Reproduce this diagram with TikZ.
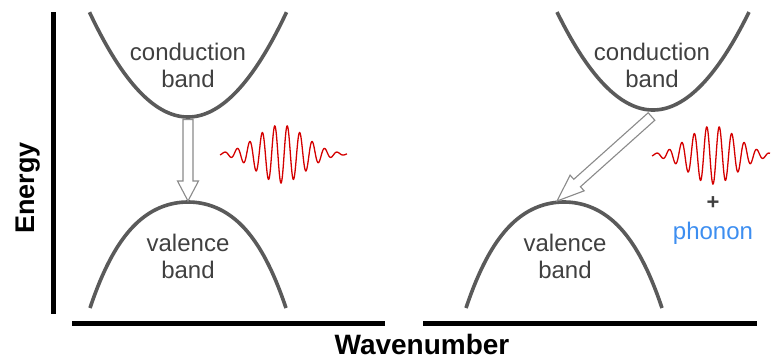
\documentclass[tikz,border=0pt]{standalone}
\usepackage{fontspec}
\setmainfont{Liberation Sans}
\usepackage{tikz}
\usetikzlibrary{calc}
\definecolor{bandgray}{HTML}{5A5A5A}
\definecolor{textgray}{HTML}{404040}
\definecolor{wavered}{HTML}{D40000}
\definecolor{phonblue}{HTML}{3D8EF0}
\definecolor{arrgray}{HTML}{8A8A8A}
% hollow block arrow: from, to, head length
\newcommand{\hollowarrow}[3]{%
  \filldraw[hollow] ($(#1)!5pt!90:(#2)$) -- ($(#2)!#3!(#1)!5pt!90:(#2)$)
    -- ($(#2)!#3!(#1)!10.5pt!90:(#2)$) -- (#2)
    -- ($(#2)!#3!(#1)!10.5pt!-90:(#2)$) -- ($(#2)!#3!(#1)!5pt!-90:(#2)$)
    -- ($(#1)!5pt!-90:(#2)$) -- cycle;}

\begin{document}
\begin{tikzpicture}[x=1pt, y=-1pt,
  band/.style={draw=bandgray, line width=3.6pt},
  wave/.style={draw=wavered, line width=1.3pt},
  hollow/.style={draw=arrgray, fill=white, line width=1.1pt, line join=miter},
  lbl/.style={text=textgray, font=\fontsize{24}{27}\selectfont, align=center, inner sep=0pt},
  axis/.style={line width=5pt},
  axlbl/.style={font=\fontsize{28}{30}\selectfont\bfseries, inner sep=0pt}]
  \useasboundingbox (0,0) rectangle (771,360);
  % axes
  \coordinate (etop) at (53.5,12);
  \coordinate (ebot) at (53.5,314);
  \coordinate (wl1) at (72,323);
  \coordinate (wl2) at (385,323);
  \coordinate (wr1) at (423,323);
  \coordinate (wr2) at (757,323);
  \draw[axis] (etop) -- (ebot);
  \draw[axis] (wl1) -- (wl2);
  \draw[axis] (wr1) -- (wr2);
  \node[axlbl, font=\fontsize{27}{30}\selectfont\bfseries, rotate=90] (energy) at (28,188) {Energy};
  \node[axlbl] (wavenum) at (422,344.5) {Wavenumber};
  % direct gap
  \draw[band] plot[domain=-98.5:98.5, samples=80] ({188+\x}, {117-108*(\x/100)^2});
  \draw[band] plot[domain=-98:98, samples=80] ({188+\x}, {202+68.6*(\x/100)^2+43.5*(\x/100)^4});
  \node[lbl] (cbL) at (188,65) {conduction\\band};
  \node[lbl] (vbL) at (188,256) {valence\\band};
  \coordinate (cbminL) at (188,119.5);
  \coordinate (vbmaxL) at (188,201);
  \hollowarrow{cbminL}{vbmaxL}{20pt}
  \draw[wave] plot[domain=-61:66, samples=400] ({281+\x}, {154+29*exp(-(\x/34)^2)*cos(28.8*\x)});
  % indirect gap
  \draw[band] plot[domain=-96:96, samples=80] ({653+\x}, {110-106.3*(\x/100)^2});
  \draw[band] plot[domain=-98:98, samples=80] ({564+\x}, {202+68.6*(\x/100)^2+43.5*(\x/100)^4});
  \node[lbl] (cbR) at (652,65) {conduction\\band};
  \node[lbl] (vbR) at (565,256) {valence\\band};
  \coordinate (cbminR) at (651.5,116.5);
  \coordinate (vbmaxR) at (557,201);
  \hollowarrow{cbminR}{vbmaxR}{27pt}
  \draw[wave] plot[domain=-61:57, samples=400] ({713+\x}, {155+29*exp(-(\x/34)^2)*cos(28.8*\x)});
  \node[lbl, font=\fontsize{22}{27}\selectfont\bfseries] (plus) at (713,203) {+};
  \node[lbl, text=phonblue] (phonon) at (713,233) {phonon};
\end{tikzpicture}
\end{document}
